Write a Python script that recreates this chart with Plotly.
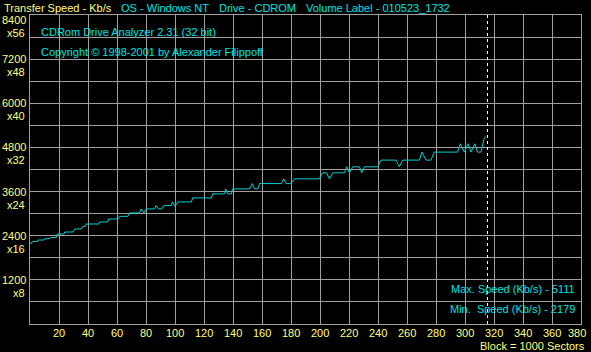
import plotly.graph_objects as go

# ---- data ----
blocks = [0, 1.4, 2.1, 5.0, 5.5, 9.6, 10.1, 13.6, 14.3, 18.1, 18.8, 23.4, 24.0, 29.6, 30.8,
          35.3, 36.5, 38.1, 38.8, 47.5, 48.0, 53.7, 54.2, 60.6, 61.8, 67.5, 68.6, 75.5,
          76.6, 78.5, 80.1, 85.8, 86.9, 88.6, 90.9, 92.2, 97.5, 98.2, 100.0, 101.9, 111.3,
          112.2, 125.1, 126.0, 134.2, 134.9, 136.3, 138.9, 139.7, 151.5, 153.3, 154.9,
          157.2, 158.3, 173.3, 174.9, 176.7, 179.0, 180.2, 182.4, 199.6, 201.7, 204.5,
          206.5, 208.8, 216.9, 218.4, 220.3, 222.6, 227.2, 228.8, 230.6, 239.8, 242.1,
          252.4, 254.7, 257.0, 268.5, 270.3, 273.1, 276.5, 278.8, 294.9, 296.7, 299.5,
          302.2, 304.1, 306.8, 308.6, 311.0, 312.1, 313.2, 314.8]
speed = [2179, 2217, 2244, 2244, 2283, 2283, 2318, 2318, 2353, 2353, 2446, 2446, 2501, 2501,
         2583, 2583, 2653, 2653, 2719, 2719, 2773, 2773, 2855, 2855, 2926, 2926, 3019, 3019,
         3128, 3019, 3128, 3128, 3218, 3128, 3128, 3218, 3218, 3318, 3200, 3318, 3318,
         3428, 3428, 3537, 3537, 3673, 3537, 3537, 3673, 3673, 3818, 3673, 3673, 3818,
         3818, 3946, 3818, 3818, 3837, 3946, 3946, 4110, 4110, 3946, 4110, 4110, 4273,
         4110, 4273, 4273, 4110, 4273, 4273, 4455, 4455, 4273, 4455, 4455, 4673, 4455,
         4455, 4673, 4673, 4900, 4673, 4900, 4673, 4900, 4673, 4673, 4900, 5050, 5111]

disc_end_block = 315.5
x_ticks = list(range(20, 381, 20))
y_ticks = list(range(1200, 8401, 1200))
speed_per_x = 150
max_speed = 5111
min_speed = 2179

# ---- styling ----
YEL = "#ffff80"
CYN = "#00e0e0"
LINE = "#00d0d0"
GRID = "#a0a0a0"
FONT = "Liberation Sans"
FS = 11

W, H = 591, 352
L, R, T, B = 30, 10, 15, 28
PW, PH = W - L - R, H - T - B


def px(x):
    return (x - L) / PW


def py(y):
    return (H - B - y) / PH


fig = go.Figure()
fig.add_trace(go.Scatter(x=blocks, y=speed, mode="lines",
                         line=dict(color=LINE, width=1), hoverinfo="skip"))

fig.add_shape(type="line", xref="x", yref="paper", x0=disc_end_block, x1=disc_end_block,
              y0=0, y1=1, line=dict(color="white", width=1, dash="3px,3px"))

ann = []
# y tick labels
for v in y_ticks:
    shift = -5 if v == y_ticks[-1] else 0
    ann.append(dict(x=0, xref="paper", y=v, yref="y", xanchor="right", yanchor="middle",
                    xshift=-2, yshift=shift, text=str(v), showarrow=False,
                    font=dict(color=YEL, size=FS, family=FONT)))
    ann.append(dict(x=0, xref="paper", y=v, yref="y", xanchor="right", yanchor="middle",
                    xshift=-3, yshift=shift - 13, text="x%d" % (v // speed_per_x),
                    showarrow=False, font=dict(color=YEL, size=FS, family=FONT)))
# x tick labels
for v in x_ticks:
    ann.append(dict(x=v, xref="x", y=0, yref="paper", xanchor="center", yanchor="middle",
                    yshift=-9, xshift=(-4 if v == x_ticks[-1] else 0), text=str(v),
                    showarrow=False, font=dict(color=YEL, size=FS, family=FONT)))


def txt(x, y, s, color, anchor="left"):
    ann.append(dict(x=px(x), xref="paper", y=py(y), yref="paper", xanchor=anchor,
                    yanchor="middle", text=s, showarrow=False,
                    font=dict(color=color, size=FS, family=FONT)))


txt(2, 8, "Transfer Speed - Kb/s", YEL)
txt(119, 8, "OS - Windows NT", CYN)
txt(217, 8, "Drive - CDROM", CYN)
txt(304, 8, "Volume Label - 010523_1732", CYN)
txt(39, 32, "CDRom Drive Analyzer 2.31 (32 bit)", CYN)
txt(39, 52, "Copyright © 1998-2001 by Alexander Filippoff", CYN)
txt(577, 289, "Max. Speed (Kb/s) - %d" % max_speed, CYN, "right")
txt(577, 309, "Min.&nbsp; Speed (Kb/s) - %d" % min_speed, CYN, "right")
txt(587, 346, "Block = 1000 Sectors", YEL, "right")

fig.update_layout(
    width=W, height=H, margin=dict(l=L, r=R, t=T, b=B),
    paper_bgcolor="black", plot_bgcolor="black", showlegend=False,
    annotations=ann,
    xaxis=dict(range=[0, 380], dtick=20, tick0=0, showgrid=True, gridcolor=GRID,
               gridwidth=1, showticklabels=False, zeroline=False, showline=True,
               linecolor=GRID, linewidth=1, mirror=True, ticks="", fixedrange=True),
    yaxis=dict(range=[0, 8400], dtick=600, tick0=0, showgrid=True, gridcolor=GRID,
               gridwidth=1, showticklabels=False, zeroline=False, showline=True,
               linecolor=GRID, linewidth=1, mirror=True, ticks="", fixedrange=True),
)

fig.write_html("out.html", config={"displayModeBar": False},
               post_script="document.body.style.margin='0';document.body.style.background='black';")
